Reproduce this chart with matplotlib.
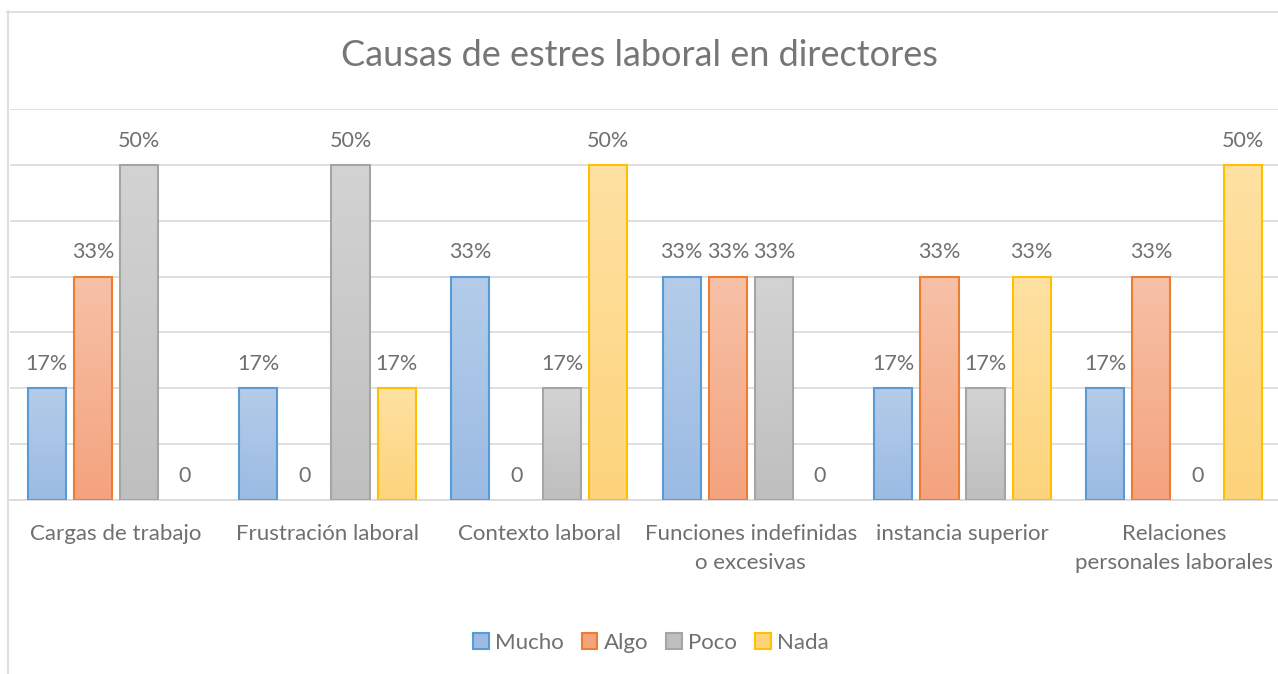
import matplotlib as mpl
mpl.use('Agg')
import matplotlib.pyplot as plt
from matplotlib.patches import Patch
from matplotlib.colors import LinearSegmentedColormap
import numpy as np

plt.rcParams['font.family'] = ['Lato', 'DejaVu Sans']

# respuestas de 6 directores
n_total = 6
categorias = ["Cargas de trabajo", "Frustración laboral", "Contexto laboral",
              "Funciones indefinidas\no excesivas", "instancia superior",
              "Relaciones\npersonales laborales"]
series = ["Mucho", "Algo", "Poco", "Nada"]
mucho = [1, 1, 2, 2, 1, 1]
algo = [2, 0, 0, 2, 2, 2]
poco = [3, 3, 1, 2, 1, 0]
nada = [0, 1, 3, 0, 2, 3]
valores = [mucho, algo, poco, nada]

# (arriba, abajo, borde)
colores = [("#b4cce9", "#9bbbe3", "#5b9bd5"),
           ("#f7c1a7", "#f4a37e", "#ed7d31"),
           ("#d3d3d3", "#bfbfbf", "#a5a5a5"),
           ("#ffe1a2", "#fdd47c", "#ffc000")]
gris = "#6f6f6f"

W, H = 1278, 674
fig = plt.figure(figsize=(W / 100, H / 100), dpi=100)
ax = fig.add_axes([10 / W, (H - 500) / H, 1270 / W, 391 / H])

paso = 0.2175
ancho = 0.18
x = np.arange(len(categorias))
ymax = 7 / 12

for i, vals in enumerate(valores):
    top, bot, edge = colores[i]
    cmap = LinearSegmentedColormap.from_list("g%d" % i, [bot, top])
    grad = np.linspace(0, 1, 100).reshape(-1, 1)
    for j, v in enumerate(vals):
        xc = x[j] + (i - 1.5) * paso
        h = v / n_total
        if v > 0:
            ax.imshow(grad, cmap=cmap, origin='lower', aspect='auto',
                      extent=(xc - ancho / 2, xc + ancho / 2, 0, h), zorder=2,
                      interpolation='bilinear')
            ax.bar(xc, h, width=ancho, facecolor='none', edgecolor=edge,
                   linewidth=1.5, zorder=3)
            txt = "%d%%" % round(100 * v / n_total)
        else:
            txt = "0"
        ax.annotate(txt, (xc, h), xytext=(0, 17.5), textcoords='offset points',
                    ha='center', va='center', fontsize=15.5, color=gris)

ax.set_xlim(-0.5, len(categorias) - 0.5)
ax.set_ylim(0, ymax)
ax.set_yticks(np.arange(0, ymax + 1e-9, 1 / 12))
ax.set_yticklabels([])
ax.tick_params(axis='y', length=0)
ax.set_xticks(x)
ax.set_xticklabels(categorias, fontsize=16, color=gris, linespacing=1.6)
ax.tick_params(axis='x', length=0, pad=17)
for lab in ax.get_xticklabels():
    lab.set_va('top')
ax.grid(axis='y', color='#d9d9d9', linewidth=1.2, zorder=0)
ax.set_axisbelow(True)
for s in ['top', 'right', 'left']:
    ax.spines[s].set_visible(False)
ax.spines['bottom'].set_color('#d9d9d9')
ax.spines['bottom'].set_linewidth(1.2)

fig.text(0.5, 1 - 55 / H, "Causas de estres laboral en directores",
         ha='center', va='center', fontsize=26, color='#767676')

handles = [Patch(facecolor=c[1], edgecolor=c[2], linewidth=1.5) for c in colores]
fig.legend(handles, series, loc='center', bbox_to_anchor=(651 / W, 1 - 643 / H),
           ncol=4, frameon=False, fontsize=16, labelcolor=gris,
           handlelength=0.7, handleheight=0.7, handletextpad=0.3, columnspacing=0.8)

# borde del gráfico
fig.add_artist(plt.Line2D([7.5 / W, 7.5 / W], [0, 1 - 11 / H], color='#d9d9d9',
                          linewidth=1.2, transform=fig.transFigure))
fig.add_artist(plt.Line2D([7 / W, 1], [1 - 11.5 / H, 1 - 11.5 / H], color='#d9d9d9',
                          linewidth=1.2, transform=fig.transFigure))

fig.savefig("out.png", dpi=100, facecolor='white')
